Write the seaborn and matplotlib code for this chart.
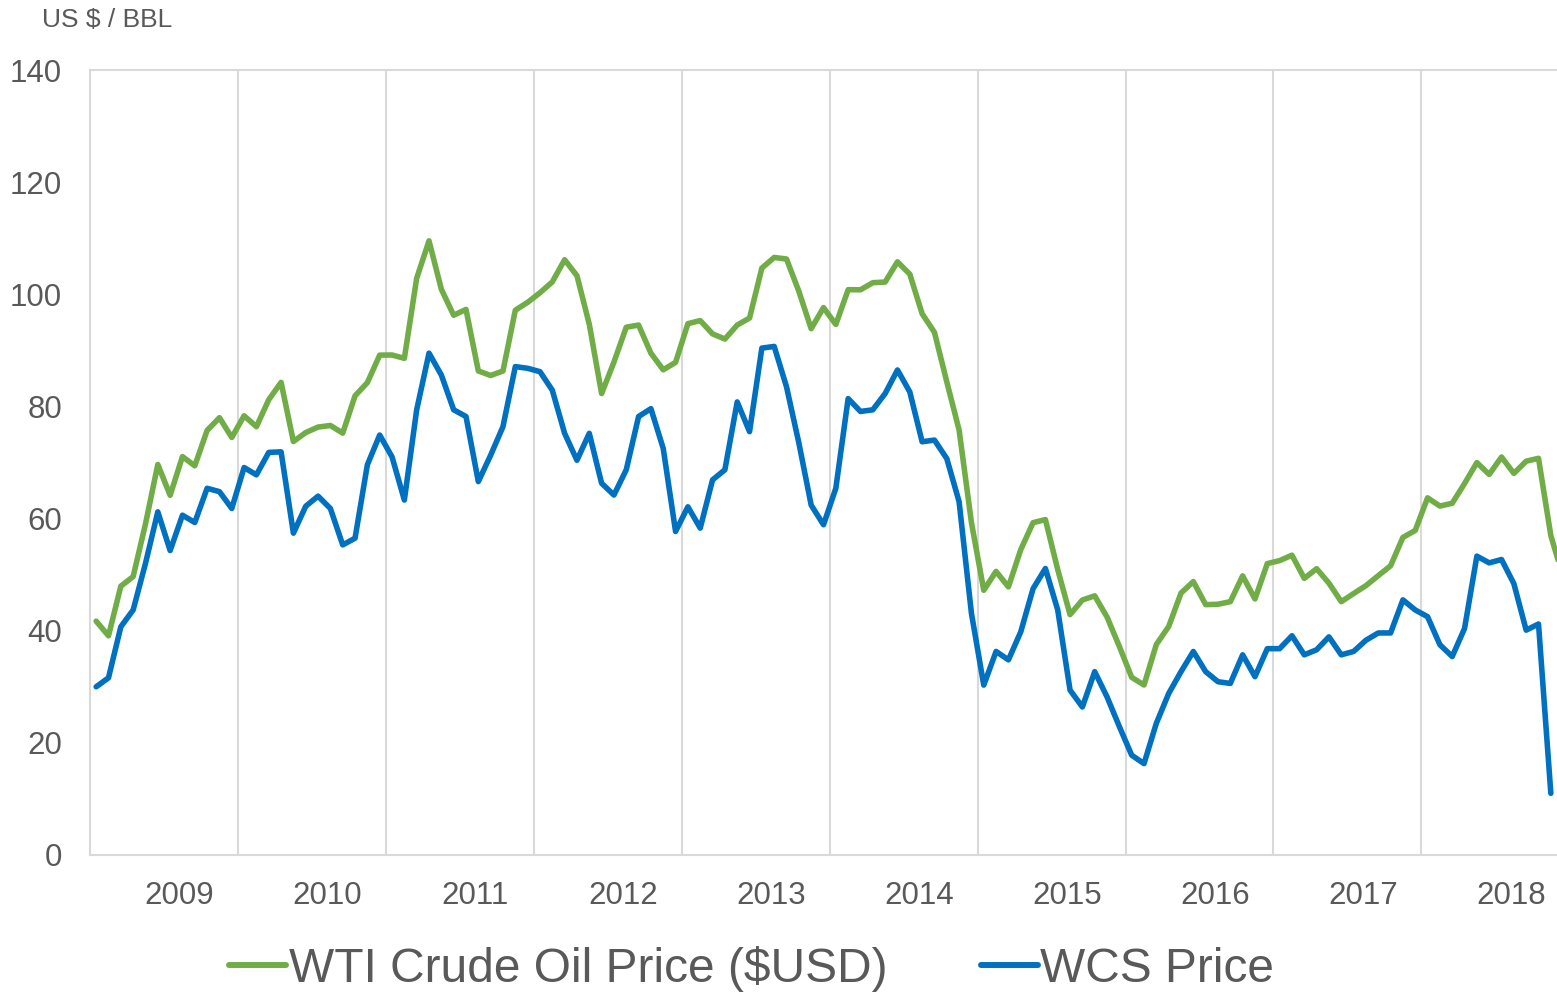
import numpy as np
import pandas as pd
import seaborn as sns
import matplotlib.pyplot as plt
from matplotlib.lines import Line2D

# monthly averages, Jan 2009 onwards
years = list(range(2009, 2019))

wti_price = [41.71, 39.09, 47.94, 49.65, 59.03, 69.64, 64.15, 71.05, 69.41, 75.72, 77.99, 74.47,
             78.33, 76.39, 81.20, 84.29, 73.74, 75.34, 76.32, 76.60, 75.24, 81.89, 84.25, 89.15,
             89.17, 88.58, 102.86, 109.53, 100.90, 96.26, 97.30, 86.33, 85.52, 86.32, 97.16, 98.56,
             100.27, 102.20, 106.16, 103.32, 94.66, 82.30, 87.90, 94.13, 94.51, 89.49, 86.53, 87.86,
             94.76, 95.31, 92.94, 92.02, 94.51, 95.77, 104.67, 106.57, 106.29, 100.54, 93.86, 97.63,
             94.62, 100.82, 100.80, 102.07, 102.18, 105.79, 103.59, 96.54, 93.21, 84.40, 75.79, 59.29,
             47.22, 50.58, 47.82, 54.45, 59.27, 59.82, 50.90, 42.87, 45.48, 46.22, 42.44, 37.19,
             31.68, 30.32, 37.55, 40.75, 46.71, 48.76, 44.65, 44.72, 45.18, 49.78, 45.66, 51.97,
             52.50, 53.47, 49.33, 51.06, 48.48, 45.18, 46.63, 48.04, 49.82, 51.58, 56.64, 57.88,
             63.70, 62.23, 62.73, 66.25, 69.98, 67.87, 70.98, 68.06, 70.23, 70.75, 56.96, 49.52]

wcs_price = [30.0, 31.6, 40.7, 43.7, 52.0, 61.2, 54.3, 60.6, 59.3, 65.4, 64.8, 61.8,
             69.1, 67.8, 71.8, 71.9, 57.4, 62.2, 64.0, 61.8, 55.3, 56.5, 69.6, 74.9,
             71.0, 63.3, 79.4, 89.5, 85.6, 79.4, 78.2, 66.6, 71.3, 76.4, 87.1, 86.8,
             86.2, 82.9, 75.2, 70.4, 75.2, 66.3, 64.2, 68.7, 78.2, 79.6, 72.5, 57.7,
             62.1, 58.3, 66.9, 68.7, 80.8, 75.5, 90.4, 90.7, 83.5, 73.5, 62.4, 58.9,
             65.4, 81.4, 79.1, 79.4, 82.3, 86.5, 82.6, 73.7, 74.0, 70.7, 63.0, 43.1,
             30.3, 36.3, 34.8, 39.8, 47.5, 51.1, 43.7, 29.4, 26.4, 32.7, 28.2, 22.9,
             17.8, 16.3, 23.5, 28.8, 32.7, 36.3, 32.7, 30.9, 30.6, 35.7, 31.8, 36.8,
             36.8, 39.1, 35.7, 36.6, 38.9, 35.7, 36.3, 38.3, 39.6, 39.6, 45.5, 43.7,
             42.5, 37.5, 35.4, 40.4, 53.3, 52.1, 52.7, 48.4, 40.1, 41.2, 11.0]

series_names = ['WTI Crude Oil Price ($USD)', 'WCS Price']
series_colors = ['#70AD47', '#0070C0']
text_color = '#595959'
grid_color = '#D9D9D9'

df = pd.concat([
    pd.DataFrame({'month': np.arange(len(wti_price)), 'price': wti_price, 'series': series_names[0]}),
    pd.DataFrame({'month': np.arange(len(wcs_price)), 'price': wcs_price, 'series': series_names[1]}),
], ignore_index=True)

sns.set_style('white')
plt.rcParams['font.family'] = ['Liberation Sans', 'DejaVu Sans']

fig = plt.figure(figsize=(15.57, 9.92), dpi=100)
ax = fig.add_axes([90 / 1557, 137 / 992, 1 - 90 / 1557, 785 / 992])

sns.lineplot(data=df, x='month', y='price', hue='series', hue_order=series_names,
             palette=dict(zip(series_names, series_colors)), linewidth=4.0,
             errorbar=None, legend=False, ax=ax)
for ln in ax.get_lines():
    ln.set_solid_capstyle('round')
    ln.set_solid_joinstyle('round')

ax.set_xlim(-0.5, 118.5)
ax.set_ylim(0, 140)
ax.set_yticks(range(0, 141, 20))
ax.set_xticks([12 * i + 6.75 for i in range(len(years))])
ax.set_xticklabels([str(y) for y in years])
ax.set_xticks([12 * i + 11.5 for i in range(len(years) - 1)], minor=True)
ax.grid(False)
ax.grid(True, which='minor', axis='x', color=grid_color, linewidth=1.5)
ax.set_axisbelow(True)
ax.set_xlabel('')
ax.set_ylabel('')

for side in ['left', 'bottom', 'top']:
    ax.spines[side].set_color(grid_color)
    ax.spines[side].set_linewidth(1.5)
ax.spines['right'].set_visible(False)

ax.tick_params(axis='both', which='both', length=0, labelsize=22.5, labelcolor=text_color)
ax.tick_params(axis='y', pad=20)
ax.tick_params(axis='x', pad=19)

fig.text(42 / 1557, 1 - 27 / 992, 'US $ / BBL', fontsize=19, color=text_color, va='baseline', ha='left')

handles = [Line2D([], [], color=c, linewidth=4.3, solid_capstyle='round') for c in series_colors]
fig.legend(handles, series_names, loc='center', bbox_to_anchor=(0.4827, 0.023), ncol=2,
           frameon=False, fontsize=34.5, handlelength=1.19, handletextpad=0.05,
           columnspacing=1.95, labelcolor=text_color, borderpad=0)

fig.savefig('out.png', dpi=100)
